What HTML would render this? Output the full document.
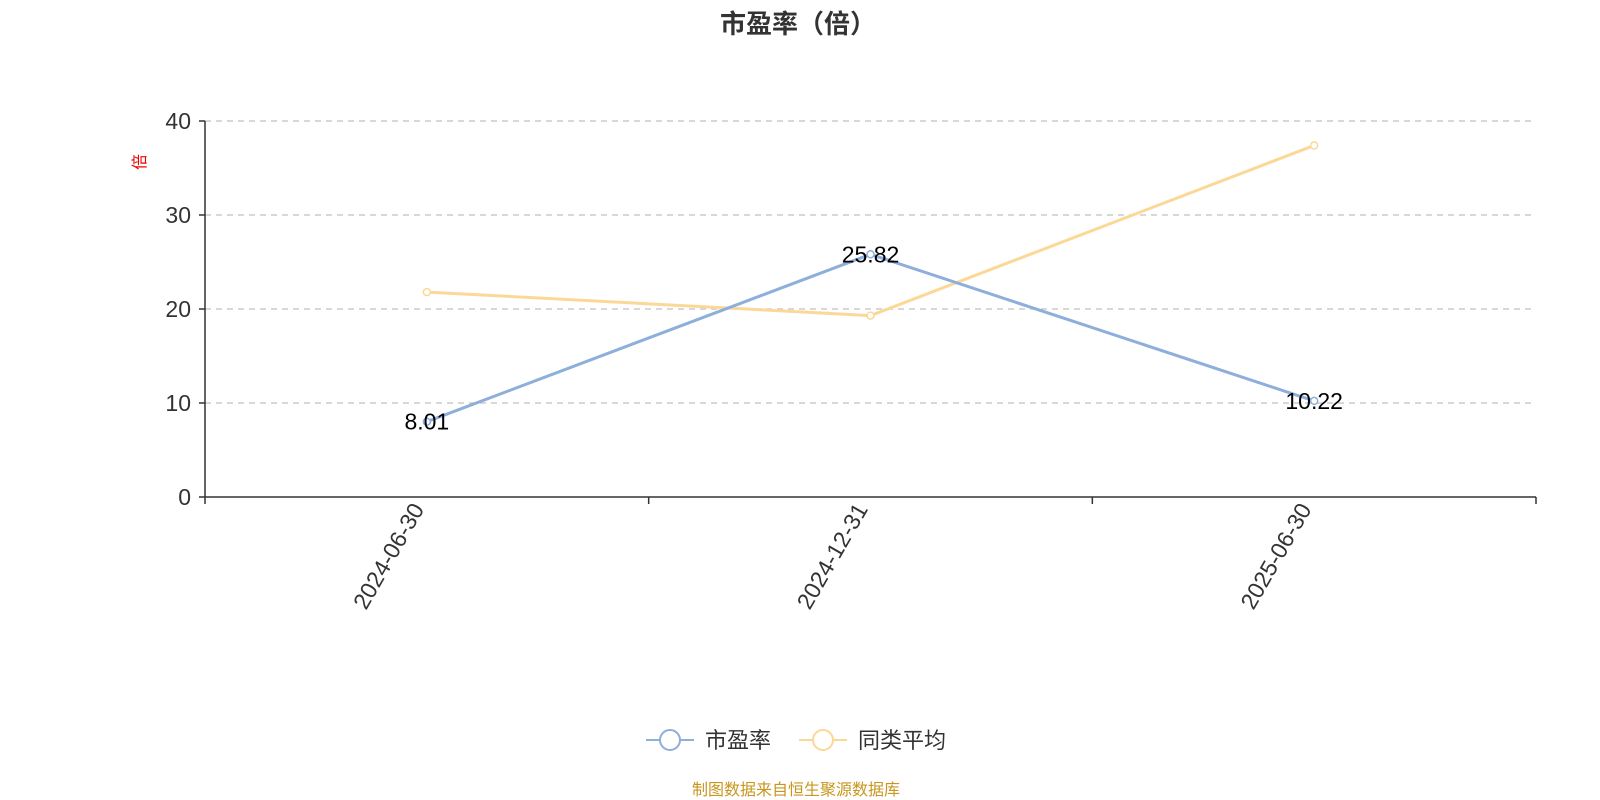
<!DOCTYPE html>
<html><head><meta charset="utf-8"><style>
body{margin:0;background:#fff;}
svg{display:block;font-family:"Liberation Sans","Noto Sans CJK SC",sans-serif;}
</style></head><body>
<svg id="c" width="1600" height="800">
<text x="798" y="33" text-anchor="middle" font-size="26" font-weight="bold" fill="#333">市盈率（倍）</text>
<text transform="translate(145,162) rotate(-90)" text-anchor="middle" font-size="16" fill="#e00">倍</text>
<g id="grid"></g><g id="axes"></g><g id="series"></g>
<g>
<g>
<line x1="646" y1="740" x2="694" y2="740" stroke="#8eaedb" stroke-width="2"/>
<circle cx="670" cy="740" r="10" fill="#fff" stroke="#8eaedb" stroke-width="2"/>
<text x="705" y="748" font-size="22" fill="#333">市盈率</text></g>
<g>
<line x1="799" y1="740" x2="847" y2="740" stroke="#fcd897" stroke-width="2"/>
<circle cx="823" cy="740" r="10" fill="#fff" stroke="#fcd897" stroke-width="2"/>
<text x="858" y="748" font-size="22" fill="#333">同类平均</text></g>
</g>
<text x="796" y="795" text-anchor="middle" font-size="16" fill="#c8961e">制图数据来自恒生聚源数据库</text>
</svg>
<script>
const categories=["2024-06-30","2024-12-31","2025-06-30"];
const peValues=[8.01,25.82,10.22];
const avgValues=[21.8,19.3,37.4];
const yTicks=[0,10,20,30,40];
const NS="http://www.w3.org/2000/svg";
const L=205,R=1536,T=121,B=497,yMax=40;
const bw=(R-L)/categories.length;
const x=i=>L+bw*(i+0.5);
const y=v=>B-(v/yMax)*(B-T);
function mk(tag,attrs,parent){const e=document.createElementNS(NS,tag);for(const k in attrs)e.setAttribute(k,attrs[k]);parent.appendChild(e);return e;}
const grid=document.getElementById('grid'),axes=document.getElementById('axes'),ser=document.getElementById('series');
yTicks.forEach(t=>{
 if(t>0){const g=mk('line',{x1:L,x2:R,y1:y(t),y2:y(t),stroke:'#ccc','stroke-dasharray':'6,5','stroke-width':1.5},grid);
 
 }
 const tk=mk('line',{x1:L-6,x2:L,y1:y(t),y2:y(t),stroke:'#333','stroke-width':1.5},axes);
 
 
 const lb=mk('text',{x:L-14,y:y(t)+8,'text-anchor':'end','font-size':23,fill:'#333'},axes);
 lb.textContent=t;
 
 
});
const ya=mk('line',{x1:L,x2:L,y1:T,y2:B,stroke:'#333','stroke-width':1.5},axes);


const xa=mk('line',{x1:L,x2:R,y1:B,y2:B,stroke:'#333','stroke-width':1.5},axes);


for(let i=0;i<=categories.length;i++){
 const tk=mk('line',{x1:L+bw*i,x2:L+bw*i,y1:B,y2:B+7,stroke:'#333','stroke-width':1.5},axes);
 
 
}
categories.forEach((c,i)=>{
 const t=mk('text',{transform:`translate(${x(i)-2},${B+12}) rotate(-60)`,'text-anchor':'end','font-size':23,fill:'#333'},axes);
 t.textContent=c;
 
 
});
function line(vals,color,name,labels){
 const p=mk('polyline',{points:vals.map((v,i)=>x(i)+','+y(v)).join(' '),fill:'none',stroke:color,'stroke-width':3},ser);
 
 
 vals.forEach((v,i)=>{
  const c=mk('circle',{cx:x(i),cy:y(v),r:3.5,fill:'#fff',stroke:color,'stroke-width':1.5},ser);
  
  
  if(labels){const t=mk('text',{x:x(i),y:y(v)+8,'text-anchor':'middle','font-size':23,fill:'#000'},ser);
  t.textContent=v.toFixed(2);
  
  }
 });
}
line(avgValues,'#fcd897','peer-average',false);
line(peValues,'#8eaedb','pe',true);
</script>
</body></html>
